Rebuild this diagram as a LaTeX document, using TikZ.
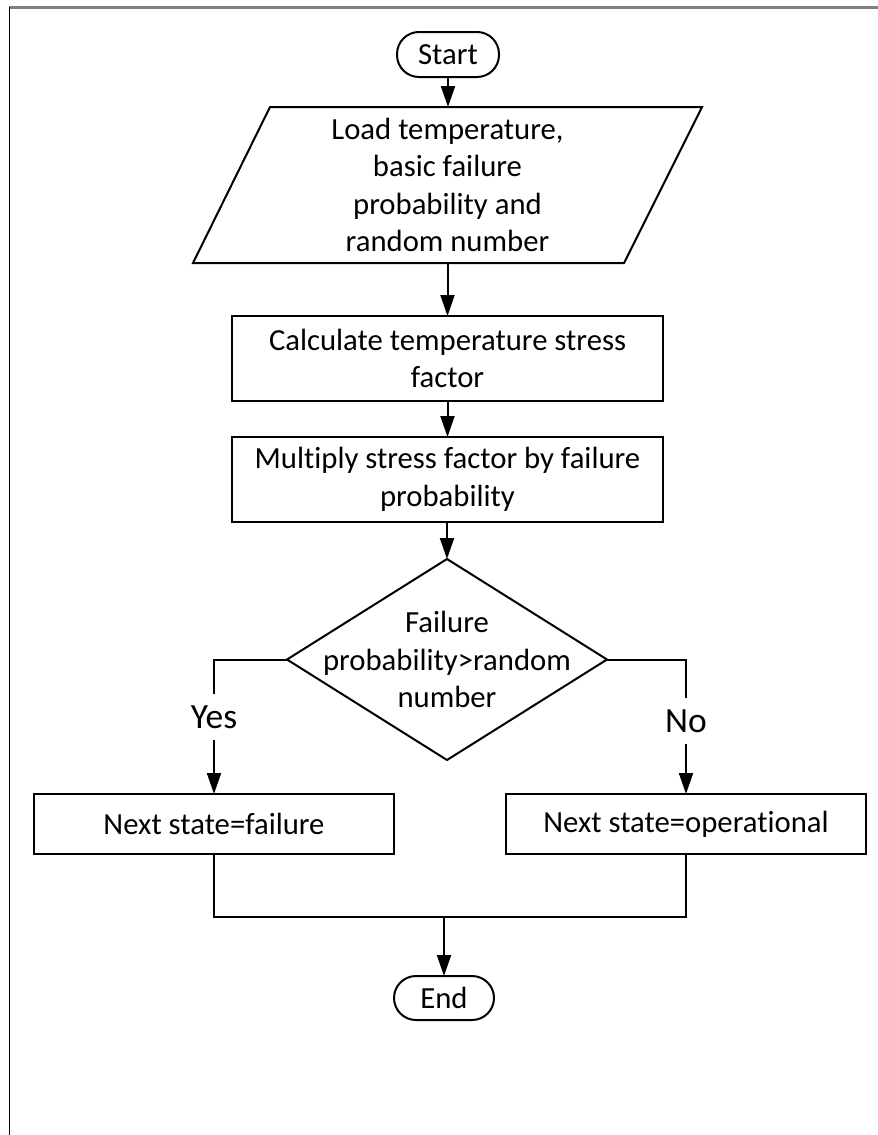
\documentclass[tikz,border=0pt]{standalone}
\usepackage{fontspec}
\setmainfont{Carlito}[RawFeature=-liga, RawFeature=-clig, RawFeature=-dlig, RawFeature=-calt]
\usetikzlibrary{arrows.meta,shapes.geometric}
\begin{document}
\begin{tikzpicture}[x=1pt,y=-1pt,
  line width=2pt,
  txt/.style={font=\fontsize{30.7}{37.5}\selectfont, align=center},
  box/.style={txt, draw, rectangle, inner sep=0pt, outer sep=0pt},
  term/.style={box, rounded corners=22pt},
  lbl/.style={font=\fontsize{35.5}{40}\selectfont, inner sep=0pt, outer sep=0pt, minimum height=46pt},
  arr/.style={-{Triangle[length=21pt,width=14pt]}},
]
\useasboundingbox (0,0) rectangle (878,1135);

% page frame
\draw[line width=2.5pt, gray] (9,7.5) -- (878,7.5);
\draw[line width=1.3pt] (9.7,7) -- (9.7,1135);

% terminals and process steps
\node[term, minimum width=102pt, minimum height=45pt] (start) at (448,54.5) {Start};

\node[txt, inner sep=0pt, outer sep=0pt, minimum width=509pt, minimum height=156pt] (load) at (447.5,185)
  {Load temperature,\\basic failure\\probability and\\random number};
\draw ([xshift=77pt]load.north west) -- (load.north east)
  -- ([xshift=-78pt]load.south east) -- (load.south west) -- cycle;

\node[box, minimum width=431pt, minimum height=85pt] (calc) at (447.5,358.5)
  {Calculate temperature stress\\factor};
\node[box, minimum width=431pt, minimum height=85pt] (mult) at (447.5,479.5)
  {Multiply stress factor by failure\\probability};

\node[diamond, draw, minimum width=320pt, minimum height=201pt, inner sep=0pt, outer sep=0pt] (dec) at (447,659.5) {};
\node[txt] (dectext) at (dec) {Failure\\probability>random\\number};

\node[box, minimum width=360pt, minimum height=60pt] (fail) at (214,824) {Next state=failure};
\node[box, minimum width=360pt, minimum height=60pt] (oper) at (686,824) {Next state=operational};

\node[term, minimum width=100pt, minimum height=44pt] (stop) at (444,998) {End};

% branch labels
\node[lbl] (yes) at (214,717) {Yes};
\node[lbl] (no) at (686,721) {No};

% connectors
\draw[arr] (start.south) -- (start.south |- load.north);
\draw[arr] (load.south -| calc.north) -- (calc.north);
\draw[arr] (calc.south) -- (mult.north);
\draw[arr] (mult.south -| dec.north) -- (dec.north);

\draw (dec.west) -| (yes.north);
\draw[arr] (yes.south) -- (fail.north);
\draw (dec.east) -| (no.north);
\draw[arr] (no.south) -- (oper.north);

\coordinate (join) at (444,917);
\draw (fail.south) |- (join) -| (oper.south);
\draw[arr] (join) -- (stop.north);
\end{tikzpicture}
\end{document}
